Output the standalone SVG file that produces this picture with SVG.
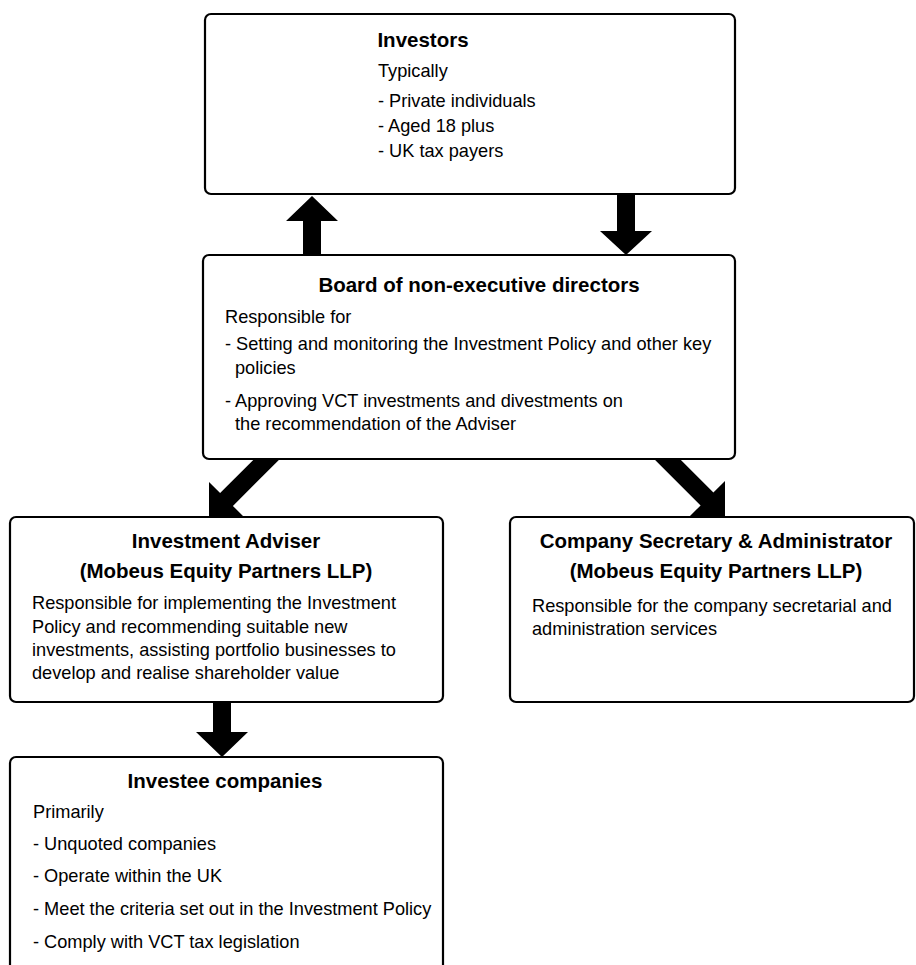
<svg xmlns="http://www.w3.org/2000/svg" width="916" height="965" viewBox="0 0 916 965">
<style>
.box{fill:#fff;stroke:#000;stroke-width:2.2}
.t{font-family:"Liberation Sans",Arial,sans-serif;font-weight:bold;font-size:20.5px;fill:#000;text-anchor:middle}
.b{font-family:"Liberation Sans",Arial,sans-serif;font-size:18.2px;fill:#000}
.arr{fill:#000}
</style>
<rect width="916" height="965" fill="#fff"/>
<g id="connectors">
<polygon class="arr" points="303,260 303,221 286,221 312,196 338,221 321,221 321,260"/>
<polygon class="arr" points="617,190 635,190 635,231 652,231 626,255 600,231 617,231"/>
<polygon class="arr" points="209,517 209,482 220.1,493.1 274.6,438.6 287.4,451.4 232.9,505.9 244,517"/>
<polygon class="arr" points="725,517 689,517 700.6,505.4 646.6,451.4 659.4,438.6 713.4,492.6 725,481"/>
<polygon class="arr" points="213,698 231,698 231,732 248,732 222,757 196,732 213,732"/>
</g>
<g id="investors">
<rect class="box" x="205" y="14" width="530" height="180" rx="6"/>
<text class="t" x="423" y="47">Investors</text>
<text class="b" x="378" y="77">Typically</text>
<text class="b" x="378" y="107">- Private individuals</text>
<text class="b" x="378" y="132">- Aged 18 plus</text>
<text class="b" x="378" y="157">- UK tax payers</text>
</g>
<g id="board">
<rect class="box" x="203" y="255" width="532" height="204" rx="6"/>
<text class="t" x="479" y="292">Board of non-executive directors</text>
<text class="b" x="225" y="323">Responsible for</text>
<text class="b" x="225" y="350">- Setting and monitoring the Investment Policy and other key</text>
<text class="b" x="235" y="374">policies</text>
<text class="b" x="225" y="407">- Approving VCT investments and divestments on</text>
<text class="b" x="235" y="430">the recommendation of the Adviser</text>
</g>
<g id="adviser">
<rect class="box" x="10" y="517" width="433" height="185" rx="6"/>
<text class="t" x="226" y="548">Investment Adviser</text>
<text class="t" x="226" y="578">(Mobeus Equity Partners LLP)</text>
<text class="b" x="32" y="609">Responsible for implementing the Investment</text>
<text class="b" x="32" y="633">Policy and recommending suitable new</text>
<text class="b" x="32" y="656">investments, assisting portfolio businesses to</text>
<text class="b" x="32" y="679">develop  and realise shareholder value</text>
</g>
<g id="secretary">
<rect class="box" x="510" y="517" width="404" height="185" rx="6"/>
<text class="t" x="716" y="548">Company Secretary &amp; Administrator</text>
<text class="t" x="716" y="578">(Mobeus Equity Partners LLP)</text>
<text class="b" x="532" y="612">Responsible for the company secretarial and</text>
<text class="b" x="532" y="635">administration services</text>
</g>
<g id="investee">
<rect class="box" x="10" y="757" width="433" height="230" rx="6"/>
<text class="t" x="225" y="788">Investee companies</text>
<text class="b" x="33" y="818">Primarily</text>
<text class="b" x="33" y="850">- Unquoted companies</text>
<text class="b" x="33" y="882">- Operate within the UK</text>
<text class="b" x="33" y="915">- Meet the criteria set out in the Investment Policy</text>
<text class="b" x="33" y="948">- Comply with VCT tax legislation</text>
</g>
</svg>
